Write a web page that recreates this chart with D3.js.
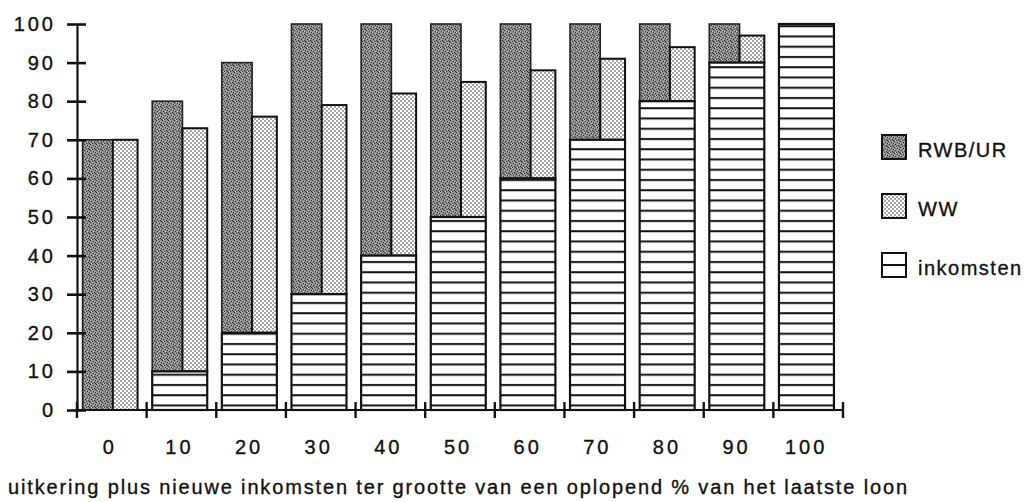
<!DOCTYPE html>
<html>
<head>
<meta charset="utf-8">
<script src="https://cdn.jsdelivr.net/npm/d3@7"></script>
<style>
  body { margin: 0; background: #fff; }
  text { font-family: "Liberation Sans", Arial, sans-serif; fill: #111; stroke: #111; stroke-width: 0.35px; }
</style>
</head>
<body>
<div id="chart"></div>
<script>
  // values
  var categories = ["0", "10", "20", "30", "40", "50", "60", "70", "80", "90", "100"];
  var inkomsten = [0, 10, 20, 30, 40, 50, 60, 70, 80, 90, 100];
  var rwbUr = [70, 70, 70, 70, 60, 50, 40, 30, 20, 10, 0];
  var ww = [70, 63, 56, 49, 42, 35, 28, 21, 14, 7, 0];
  var yTicks = [0, 10, 20, 30, 40, 50, 60, 70, 80, 90, 100];
  var seriesNames = ["RWB/UR", "WW", "inkomsten"];
  var xTitle = "uitkering plus nieuwe inkomsten ter grootte van een oplopend % van het laatste loon";

  var width = 1027;
  var height = 502;

  var svg = d3.select("#chart").append("svg")
    .attr("width", width)
    .attr("height", height);

  var defs = svg.append("defs");

  // grey speckle for RWB/UR
  var speckle = defs.append("pattern")
    .attr("id", "pRwb")
    .attr("patternUnits", "userSpaceOnUse")
    .attr("width", 6)
    .attr("height", 6);
  speckle.append("rect").attr("width", 6).attr("height", 6).attr("fill", "#8a8a8a");
  [[0, 0], [3, 1], [5, 2], [1, 3], [4, 4], [2, 5], [5, 5]].forEach(function (p) {
    speckle.append("rect").attr("x", p[0]).attr("y", p[1]).attr("width", 1).attr("height", 1).attr("fill", "#333");
  });
  [[2, 0], [0, 2], [3, 3], [1, 5], [4, 1]].forEach(function (p) {
    speckle.append("rect").attr("x", p[0]).attr("y", p[1]).attr("width", 1).attr("height", 1).attr("fill", "#c4c4c4");
  });

  // dot grid for WW
  var dots = defs.append("pattern")
    .attr("id", "pWw")
    .attr("patternUnits", "userSpaceOnUse")
    .attr("width", 4)
    .attr("height", 4);
  dots.append("rect").attr("width", 4).attr("height", 4).attr("fill", "#fff");
  dots.append("circle").attr("cx", 1).attr("cy", 1).attr("r", 0.75).attr("fill", "#222");
  dots.append("circle").attr("cx", 3).attr("cy", 3).attr("r", 0.75).attr("fill", "#222");

  // horizontal stripes for inkomsten
  var stripes = defs.append("pattern")
    .attr("id", "pInk")
    .attr("patternUnits", "userSpaceOnUse")
    .attr("width", 10)
    .attr("height", 10.25);
  stripes.append("rect").attr("width", 10).attr("height", 10.25).attr("fill", "#fff");
  stripes.append("rect").attr("y", 4.75).attr("width", 10).attr("height", 2).attr("fill", "#111");

  var y = d3.scaleLinear()
    .domain([0, 100])
    .range([410, 24]);

  var x = d3.scaleBand()
    .domain(categories)
    .range([77, 843])
    .padding(0);

  var step = x.step();
  var barOff = step * 0.08;
  var barW = step * 0.79;
  var darkW = barW * 0.55;

  var data = categories.map(function (c, i) {
    return { cat: c, ink: inkomsten[i], rwb: rwbUr[i], ww: ww[i] };
  });

  var bars = svg.append("g").attr("class", "bars");

  data.forEach(function (d) {
    var x0 = x(d.cat) + barOff;
    if (d.rwb > 0) {
      bars.append("rect")
        .attr("x", x0)
        .attr("y", y(d.ink + d.rwb))
        .attr("width", darkW)
        .attr("height", y(d.ink) - y(d.ink + d.rwb))
        .attr("fill", "url(#pRwb)")
        .attr("stroke", "#222")
        .attr("stroke-width", 1.6);
    }
    if (d.ww > 0) {
      bars.append("rect")
        .attr("x", x0 + darkW)
        .attr("y", y(d.ink + d.ww))
        .attr("width", barW - darkW)
        .attr("height", y(d.ink) - y(d.ink + d.ww))
        .attr("fill", "url(#pWw)")
        .attr("stroke", "#111")
        .attr("stroke-width", 2);
    }
    if (d.ink > 0) {
      bars.append("rect")
        .attr("x", x0)
        .attr("y", y(d.ink))
        .attr("width", barW)
        .attr("height", y(0) - y(d.ink))
        .attr("fill", "url(#pInk)")
        .attr("stroke", "#111")
        .attr("stroke-width", 2.2);
    }
  });

  // y axis, ticks cross the line
  var yAxis = d3.axisLeft(y)
    .tickValues(yTicks)
    .tickSizeInner(10)
    .tickSizeOuter(0)
    .tickPadding(11);

  var yg = svg.append("g")
    .attr("transform", "translate(77,0)")
    .call(yAxis);
  yg.select(".domain").attr("stroke", "#111").attr("stroke-width", 2.2);
  yg.selectAll(".tick line").attr("x1", 9).attr("stroke", "#111").attr("stroke-width", 2.6);
  yg.selectAll(".tick text")
    .style("font-size", "20px")
    .style("letter-spacing", "3px")
    .style("font-family", "'Liberation Sans', Arial, sans-serif")
    .attr("fill", "#111");

  // x axis: labels under bar groups, ticks on group boundaries
  var xAxis = d3.axisBottom(x)
    .tickSize(0)
    .tickPadding(30);

  var xg = svg.append("g")
    .attr("transform", "translate(-2,410)")
    .call(xAxis);
  xg.select(".domain").remove();
  xg.selectAll(".tick text")
    .style("font-size", "20px")
    .style("letter-spacing", "3px")
    .style("font-family", "'Liberation Sans', Arial, sans-serif")
    .attr("fill", "#111");

  svg.append("line")
    .attr("x1", 77).attr("x2", 843)
    .attr("y1", y(0)).attr("y2", y(0))
    .attr("stroke", "#111")
    .attr("stroke-width", 2.2);

  var bounds = categories.map(function (c) { return x(c); }).concat([x.range()[1]]);
  svg.append("g").selectAll("line")
    .data(bounds)
    .enter().append("line")
    .attr("x1", function (d) { return d; })
    .attr("x2", function (d) { return d; })
    .attr("y1", y(0) - 8)
    .attr("y2", y(0) + 8)
    .attr("stroke", "#111")
    .attr("stroke-width", 2.4);

  // title under the axis
  svg.append("text")
    .attr("x", 8)
    .attr("y", 494)
    .attr("textLength", 899)
    .attr("lengthAdjust", "spacing")
    .style("font-size", "20px")
    .text(xTitle);

  // legend
  var fills = ["url(#pRwb)", "url(#pWw)", "#fff"];
  var legend = svg.append("g").attr("transform", "translate(882,135)");
  seriesNames.forEach(function (name, i) {
    var g = legend.append("g").attr("transform", "translate(0," + (i * 59) + ")");
    g.append("rect")
      .attr("width", 24)
      .attr("height", 24)
      .attr("fill", fills[i])
      .attr("stroke", "#111")
      .attr("stroke-width", 2);
    if (name === "inkomsten") {
      g.append("line")
        .attr("x1", 0).attr("x2", 24)
        .attr("y1", 12).attr("y2", 12)
        .attr("stroke", "#111")
        .attr("stroke-width", 2);
    }
    g.append("text")
      .attr("x", 36)
      .attr("y", 22)
      .style("font-size", "20px")
      .style("letter-spacing", "1.5px")
      .text(name);
  });
</script>
</body>
</html>
